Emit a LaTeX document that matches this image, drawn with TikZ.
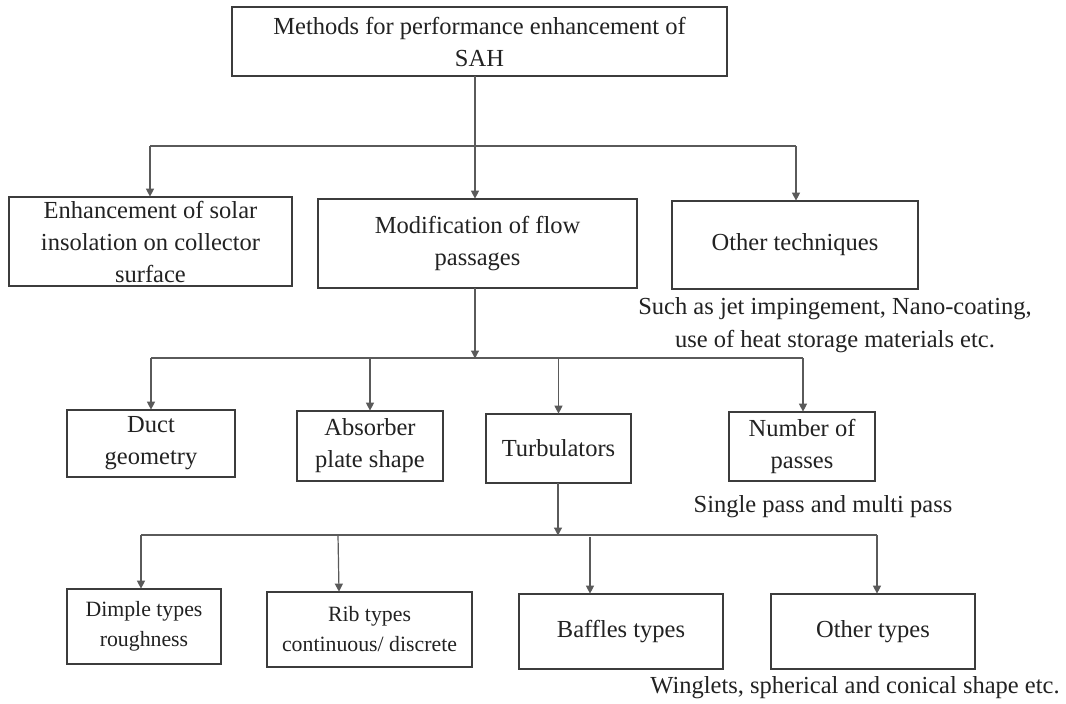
\documentclass[tikz,border=0pt]{standalone}
\usepackage{fontspec}
\setmainfont{Liberation Serif}
\usetikzlibrary{arrows.meta}
\definecolor{boxline}{HTML}{3C3C3C}
\definecolor{conline}{HTML}{5A5A5A}
\definecolor{txt}{HTML}{222222}
\tikzset{
  box/.style={draw=boxline, line width=1.7pt, inner sep=0pt, align=center, text=txt,
    font=\fontsize{24.5}{32}\selectfont},
  smallbox/.style={box, font=\fontsize{21.8}{30}\selectfont},
  note/.style={inner sep=0pt, align=center, text=txt, font=\fontsize{24.5}{32.5}\selectfont},
  conn/.style={draw=conline, line width=1.2pt},
  arr/.style={conn, -{Triangle[width=8pt,length=8pt]}, shorten >=-0.5pt}
}
\begin{document}
\begin{tikzpicture}[x=1pt,y=-1pt]
\useasboundingbox (0,0) rectangle (1066,704);
\fill[white] (0,0) rectangle (1066,704);

% level 0
\node[box, minimum width=495pt, minimum height=69pt] (top) at (479.5,41.5)
  {Methods for performance enhancement of\\SAH};

% level 1
\node[box, minimum width=283pt, minimum height=89pt] (enh) at (150.5,241.5)
  {Enhancement of solar\\insolation on collector\\surface};
\node[box, minimum width=319pt, minimum height=89pt] (mod) at (477.5,243.5)
  {Modification of flow\\passages};
\node[box, minimum width=246pt, minimum height=88pt] (oth) at (795,245)
  {Other techniques};
\node[note] (othnote) at (835,325)
  {Such as jet impingement, Nano-coating,\\use of heat storage materials etc.};

% level 2
\node[box, minimum width=168pt, minimum height=67pt] (duct) at (151,443.5)
  {Duct\\geometry};
\node[box, minimum width=146pt, minimum height=70pt] (abs) at (370,446)
  {Absorber\\plate shape};
\node[box, minimum width=145pt, minimum height=69pt] (turb) at (558.5,448.5)
  {Turbulators};
\node[box, minimum width=146pt, minimum height=69pt] (num) at (802,446.5)
  {Number of\\passes};
\node[note] (numnote) at (823,507) {Single pass and multi pass};

% level 3
\node[smallbox, minimum width=154pt, minimum height=75pt] (dimp) at (144,626.5)
  {Dimple types\\roughness};
\node[smallbox, minimum width=205pt, minimum height=75pt] (rib) at (369.5,629.5)
  {Rib types\\continuous/ discrete};
\node[box, minimum width=204pt, minimum height=75pt] (baf) at (621,631.5)
  {Baffles types};
\node[box, minimum width=204pt, minimum height=75pt] (otyp) at (873,631.5)
  {Other types};
\node[note] (otnote) at (855,688) {Winglets, spherical and conical shape etc.};

% junction coordinates
\coordinate (t1) at (475,76);
\coordinate (j1) at (475,146);
\coordinate (j1l) at (150,146);
\coordinate (j1r) at (796,146);
\coordinate (m1) at (475,288);
\coordinate (j2) at (475,358);
\coordinate (j2l) at (151,358);
\coordinate (j2r) at (803,358);
\coordinate (tb) at (558,483);
\coordinate (j3) at (558,535);
\coordinate (j3l) at (141,535);
\coordinate (j3r) at (877,535);

% level 0 -> 1
\draw[conn] (j1l) -- (j1r);
\draw[arr] (t1) -- (t1 |- mod.north);
\draw[arr] (j1l) -- (j1l |- enh.north);
\draw[arr] (j1r) -- (j1r |- oth.north);

% level 1 -> 2
\draw[arr] (m1) -- (j2);
\draw[conn] (j2l) -- (j2r);
\draw[arr] (j2l) -- (j2l |- duct.north);
\draw[arr] (abs.north |- j2l) -- (abs.north);
\draw[arr] (turb.north |- j2l) -- (turb.north);
\draw[arr] (j2r) -- (j2r |- num.north);

% level 2 -> 3
\draw[arr] (tb) -- (j3);
\draw[conn] (j3l) -- (j3r);
\draw[arr] (j3l) -- (j3l |- dimp.north);
\draw[arr] (338,535) -- (rib.north -| 339,0);
\draw[arr] (590,537) -- (590,0 |- baf.north);
\draw[arr] (j3r) -- (j3r |- otyp.north);
\end{tikzpicture}
\end{document}
